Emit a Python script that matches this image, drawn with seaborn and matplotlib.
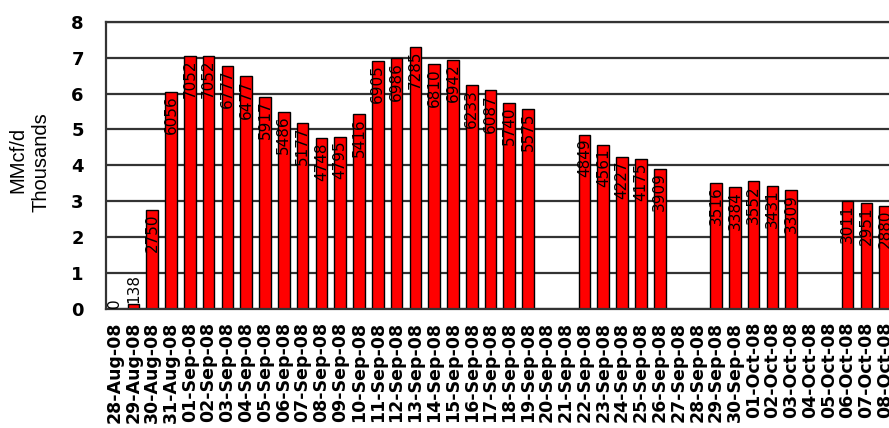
import matplotlib
matplotlib.use('Agg')
import matplotlib.pyplot as plt
import seaborn as sns
import pandas as pd
import numpy as np

# daily volumes, MMcf/d (blank days have no bar)
dates = ['28-Aug-08', '29-Aug-08', '30-Aug-08', '31-Aug-08',
         '01-Sep-08', '02-Sep-08', '03-Sep-08', '04-Sep-08', '05-Sep-08',
         '06-Sep-08', '07-Sep-08', '08-Sep-08', '09-Sep-08', '10-Sep-08',
         '11-Sep-08', '12-Sep-08', '13-Sep-08', '14-Sep-08', '15-Sep-08',
         '16-Sep-08', '17-Sep-08', '18-Sep-08', '19-Sep-08', '20-Sep-08',
         '21-Sep-08', '22-Sep-08', '23-Sep-08', '24-Sep-08', '25-Sep-08',
         '26-Sep-08', '27-Sep-08', '28-Sep-08', '29-Sep-08', '30-Sep-08',
         '01-Oct-08', '02-Oct-08', '03-Oct-08', '04-Oct-08', '05-Oct-08',
         '06-Oct-08', '07-Oct-08', '08-Oct-08']
volumes = [0, 138, 2750, 6056,
           7052, 7052, 6777, 6477, 5917,
           5486, 5177, 4748, 4795, 5416,
           6905, 6986, 7285, 6810, 6942,
           6233, 6087, 5740, 5575, None,
           None, 4849, 4561, 4227, 4175,
           3909, None, None, 3516, 3384,
           3552, 3431, 3309, None, None,
           3011, 2951, 2880]
y_ticks = [0, 1, 2, 3, 4, 5, 6, 7, 8]

sns.set_theme(style="white")
plt.rcParams['font.family'] = ['DejaVu Sans']

df = pd.DataFrame({'date': dates,
                   'thousands': [np.nan if v is None else v / 1000 for v in volumes]})

fig = plt.figure(figsize=(8.89, 4.28), dpi=100)
fig.patch.set_facecolor('white')
ax = fig.add_axes([106 / 889, 119 / 428, 798 / 889, 287.3 / 428])

sns.barplot(data=df, x='date', y='thousands', order=dates, color='#ff0000',
            saturation=1, width=0.62, edgecolor='black', linewidth=1,
            errorbar=None, ax=ax)

ax.set_xlim(-0.46, 42)
ax.set_ylim(0, 8)
ax.set_yticks(y_ticks)
ax.set_axisbelow(True)
ax.yaxis.grid(True, color='#333333', linewidth=1.6)
for spine in ax.spines.values():
    spine.set_edgecolor('#333333')
    spine.set_linewidth(1.6)

# value labels, rotated inside the bar top (above if the bar is too short)
for i, v in enumerate(volumes):
    if v is None:
        continue
    h = v / 1000
    if h > 1.4:
        ax.text(i, h - 0.1, str(v), rotation=90, ha='center', va='top',
                fontsize=11, color='black')
    else:
        ax.text(i, h + 0.02, str(v), rotation=90, ha='center', va='bottom',
                fontsize=11, color='black')

ax.set_xlabel('')
ax.set_ylabel('')
ax.set_xticks(range(len(dates)))
ax.set_xticklabels(dates, rotation=90, ha='center', va='top',
                   fontsize=12.5, fontweight='bold', color='black')
ax.tick_params(axis='x', length=0, pad=9)
ax.tick_params(axis='y', length=0, pad=16, labelsize=13, labelcolor='black')
for lbl in ax.get_yticklabels():
    lbl.set_fontweight('bold')

fig.text(18 / 889, 1 - 160 / 428, 'MMcf/d', rotation=90, ha='center', va='center',
         fontsize=14.5, family='Liberation Sans', color='black')
fig.text(41 / 889, 1 - 162 / 428, 'Thousands', rotation=90, ha='center', va='center',
         fontsize=14.5, family='Liberation Sans', color='black')

fig.savefig('out.png', dpi=100, facecolor='white')
